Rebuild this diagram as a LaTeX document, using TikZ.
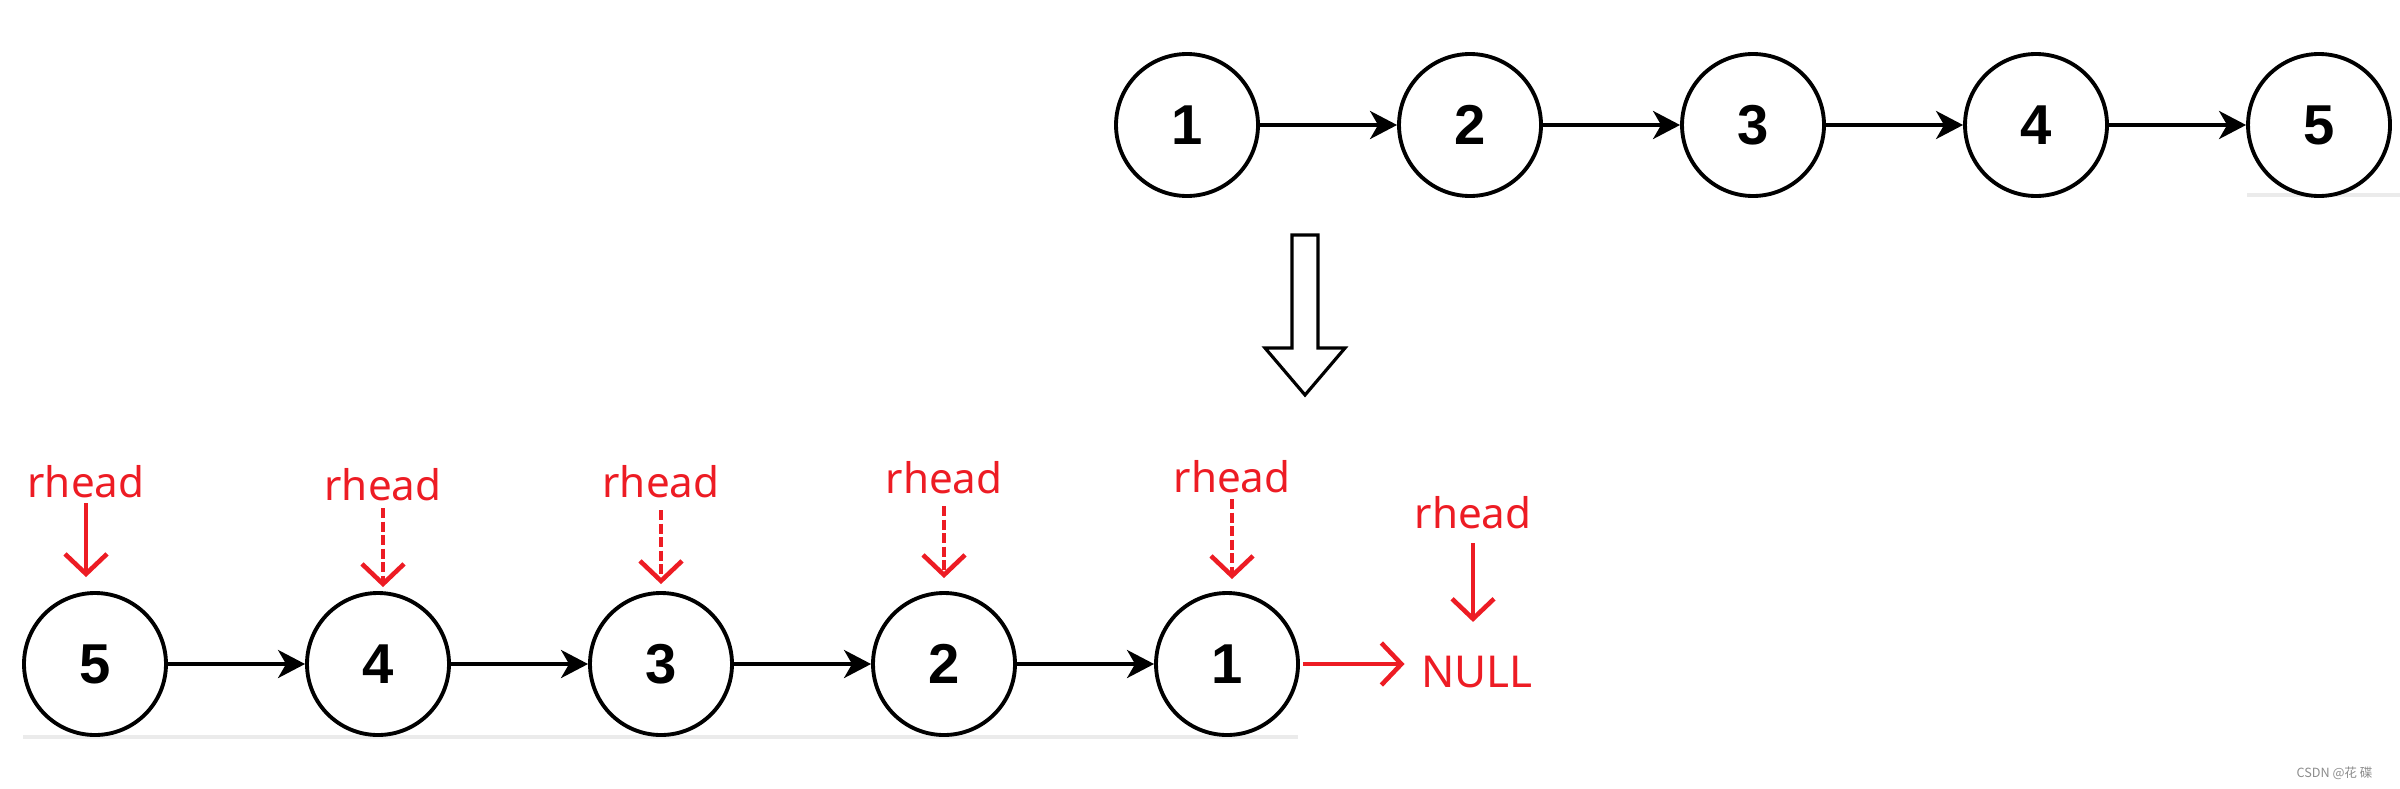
\documentclass[tikz,border=0pt]{standalone}
\usepackage{fontspec}
\setmainfont{Liberation Sans}
\newfontfamily\notefont{Noto Sans}
\newfontfamily\cjkfont{Noto Sans CJK SC}
\usetikzlibrary{arrows.meta,positioning}
\definecolor{penred}{RGB}{237,28,36}

\begin{document}
\begin{tikzpicture}[
  listnode/.style={circle,draw,line width=1.1pt,minimum size=1.42cm,inner sep=0pt,
    font=\fontsize{16}{18}\selectfont\bfseries},
  link/.style={line width=1.1pt,-{Stealth[length=0.27cm,width=0.28cm,inset=0.08cm]}},
  pointer/.style={penred,line width=1.3pt,-{Straight Barb[length=0.2cm,width=0.42cm]}},
  tag/.style={penred,inner sep=0pt,anchor=base,font=\notefont\fontsize{12}{14}\selectfont},
  ]
  \useasboundingbox (0,0) rectangle (24,-7.88);

  % the list before
  \draw[black!8,line width=1pt] (22.47,-1.95) -- (24,-1.95);
  \foreach \i/\x in {1/11.87,2/14.70,3/17.53,4/20.36,5/23.19}
    \node[listnode,fill=white] (t\i) at (\x,-1.25) {\i};
  \foreach \i/\j in {1/2,2/3,3/4,4/5}
    \draw[link] (t\i) -- (t\j);

  % big hollow arrow
  \draw[line width=0.9pt] (12.92,-2.35) -- (13.18,-2.35) -- (13.18,-3.48) -- (13.45,-3.48)
    -- (13.05,-3.95) -- (12.65,-3.48) -- (12.92,-3.48) -- cycle;

  % the list after
  \draw[black!8,line width=1pt] (0.23,-7.37) -- (12.98,-7.37);
  \foreach \i/\x in {5/0.95,4/3.78,3/6.61,2/9.44,1/12.27}
    \node[listnode,fill=white] (b\i) at (\x,-6.64) {\i};
  \foreach \i/\j in {5/4,4/3,3/2,2/1}
    \draw[link] (b\i) -- (b\j);

  \node[penred,inner sep=0pt,font=\notefont\fontsize{12.5}{14}\selectfont,anchor=base]
    (null) at (14.77,-6.87) {NULL};
  \draw[pointer,shorten <=0.03cm,shorten >=0.16cm] (b1.east) -- (b1.east -| null.west);

  % rhead at each step
  \node[tag] (r5) at (0.86,-4.97) {rhead};
  \node[tag] (r4) at (3.83,-5.00) {rhead};
  \node[tag] (r3) at (6.61,-4.97) {rhead};
  \node[tag] (r2) at (9.44,-4.93) {rhead};
  \node[tag] (r1) at (12.32,-4.92) {rhead};
  \node[tag] (rn) at (14.73,-5.28) {rhead};
  \draw[pointer,shorten <=0.05cm,shorten >=0.14cm] (r5.south) -- (r5.south |- b5.north);
  \draw[pointer,dash pattern=on 0.1cm off 0.035cm,shorten <=0.07cm,shorten >=0.04cm]
    (r4.south) -- (r4.south |- b4.north);
  \draw[pointer,dash pattern=on 0.1cm off 0.035cm,shorten <=0.12cm,shorten >=0.07cm]
    (r3.south) -- (r3.south |- b3.north);
  \draw[pointer,dash pattern=on 0.1cm off 0.035cm,shorten <=0.12cm,shorten >=0.13cm]
    (r2.south) -- (r2.south |- b2.north);
  \draw[pointer,dash pattern=on 0.1cm off 0.035cm,shorten <=0.06cm,shorten >=0.12cm]
    (r1.south) -- (r1.south |- b1.north);
  \draw[pointer,shorten <=0.14cm,shorten >=0.33cm] (rn.south) -- (rn.south |- null.north);

  \node[text=black!45,font=\cjkfont\fontsize{3.6}{4}\selectfont,anchor=east]
    (mark) at (23.85,-7.73) {CSDN @花 碟};
\end{tikzpicture}
\end{document}
